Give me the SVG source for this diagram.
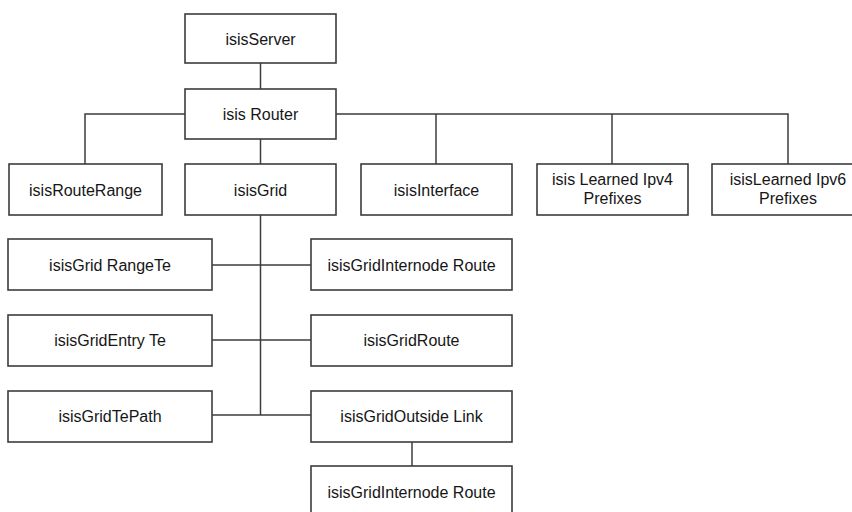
<svg xmlns="http://www.w3.org/2000/svg" width="852" height="512" viewBox="0 0 852 512">
  <style>
    .box { fill: #ffffff; stroke: #3c3c3c; stroke-width: 1.6; }
    .lbl { font-family: "Liberation Sans", Arial, sans-serif; font-size: 16px; fill: #161616; text-anchor: middle; dominant-baseline: central; }
    .wire { fill: none; stroke: #3c3c3c; stroke-width: 1.5; }
  </style>
  <rect width="852" height="512" fill="#ffffff"/>

  <!-- connectors -->
  <g id="connectors">
    <path class="wire" d="M260.5,63 V89"/>
    <path class="wire" d="M185,114 H85 V164"/>
    <path class="wire" d="M336,114 H788 V164"/>
    <path class="wire" d="M436,114 V164"/>
    <path class="wire" d="M612,114 V164"/>
    <path class="wire" d="M260.5,139 V164"/>
    <path class="wire" d="M260.5,215 V415"/>
    <path class="wire" d="M212,265 H311"/>
    <path class="wire" d="M212,340 H311"/>
    <path class="wire" d="M212,415 H311"/>
    <path class="wire" d="M412,442 V466"/>
  </g>

  <g id="isisServer">
    <rect class="box" x="185" y="14" width="151" height="49"/>
    <text class="lbl" x="260.5" y="39">isisServer</text>
  </g>
  <g id="isisRouter">
    <rect class="box" x="185" y="89" width="151" height="50"/>
    <text class="lbl" x="260.5" y="114">isis Router</text>
  </g>

  <g id="isisRouteRange">
    <rect class="box" x="9" y="164" width="153" height="51"/>
    <text class="lbl" x="85.5" y="190">isisRouteRange</text>
  </g>
  <g id="isisGrid">
    <rect class="box" x="185" y="164" width="151" height="51"/>
    <text class="lbl" x="260.5" y="190">isisGrid</text>
  </g>
  <g id="isisInterface">
    <rect class="box" x="361" y="164" width="151" height="51"/>
    <text class="lbl" x="436.5" y="190">isisInterface</text>
  </g>
  <g id="isisLearnedIpv4Prefixes">
    <rect class="box" x="537" y="164" width="151" height="51"/>
    <text class="lbl" x="612.5" y="179">isis Learned Ipv4</text>
    <text class="lbl" x="612.5" y="198">Prefixes</text>
  </g>
  <g id="isisLearnedIpv6Prefixes">
    <rect class="box" x="712" y="164" width="152" height="51"/>
    <text class="lbl" x="788" y="179">isisLearned Ipv6</text>
    <text class="lbl" x="788" y="198">Prefixes</text>
  </g>

  <g id="isisGridRangeTe">
    <rect class="box" x="8" y="239" width="204" height="51"/>
    <text class="lbl" x="110" y="265">isisGrid RangeTe</text>
  </g>
  <g id="isisGridEntryTe">
    <rect class="box" x="8" y="315" width="204" height="51"/>
    <text class="lbl" x="110" y="340">isisGridEntry Te</text>
  </g>
  <g id="isisGridTePath">
    <rect class="box" x="8" y="391" width="204" height="51"/>
    <text class="lbl" x="110" y="416">isisGridTePath</text>
  </g>

  <g id="isisGridInternodeRoute">
    <rect class="box" x="311" y="239" width="201" height="51"/>
    <text class="lbl" x="411.5" y="265">isisGridInternode Route</text>
  </g>
  <g id="isisGridRoute">
    <rect class="box" x="311" y="315" width="201" height="51"/>
    <text class="lbl" x="411.5" y="340">isisGridRoute</text>
  </g>
  <g id="isisGridOutsideLink">
    <rect class="box" x="311" y="391" width="201" height="51"/>
    <text class="lbl" x="411.5" y="416">isisGridOutside Link</text>
  </g>
  <g id="isisGridInternodeRoute2">
    <rect class="box" x="311" y="466" width="201" height="51"/>
    <text class="lbl" x="411.5" y="492">isisGridInternode Route</text>
  </g>
</svg>
